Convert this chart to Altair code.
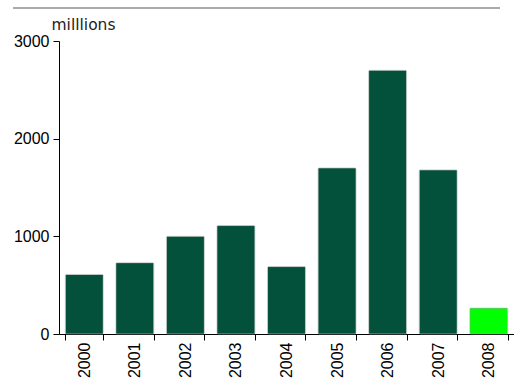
import altair as alt
import pandas as pd

years = ["2000", "2001", "2002", "2003", "2004", "2005", "2006", "2007", "2008"]
values = [610, 730, 1000, 1110, 690, 1700, 2700, 1680, 265]
colors = ["#03513A"] * 8 + ["#00FF00"]

df = pd.DataFrame({"year": years, "value": values, "color": colors})

bars = alt.Chart(df).mark_bar(stroke="#9aa9a2", strokeWidth=0.5, cornerRadius=1).encode(
    x=alt.X("year:N", sort=years,
            scale=alt.Scale(paddingInner=0.25, paddingOuter=0.125),
            axis=alt.Axis(title=None, labelAngle=-90, labelFontSize=16, labelFont="Liberation Sans",
                          labelColor="black", labelPadding=2, tickColor="black", domainColor="black",
                          tickBand="extent", tickSize=6, labelAlign="right", labelBaseline="middle")),
    y=alt.Y("value:Q", scale=alt.Scale(domain=[0, 3000]),
            axis=alt.Axis(values=[0, 1000, 2000, 3000], format="d", grid=False, title="milllions",
                          titleAngle=0, titleX=-8, titleY=-12, titleAlign="left",
                          titleBaseline="alphabetic", titleFont="DejaVu Sans",
                          titleFontSize=15.5, titleFontWeight="normal", titleColor="#222222",
                          labelFontSize=16, labelFont="Liberation Sans", labelColor="black",
                          tickColor="black", domainColor="black", tickSize=6, labelPadding=4)),
    color=alt.Color("color:N", scale=None),
)

topline = alt.Chart(df).mark_rule(color="#aaaaaa", strokeWidth=2, clip=False).encode(
    x=alt.value(-46), x2=alt.value(441), y=alt.value(-33)
)

chart = alt.layer(bars, topline).properties(
    width=455, height=293,
    autosize=alt.AutoSizeParams(type="none"),
    padding={"left": 59, "top": 41, "right": 0, "bottom": 48},
).configure_view(stroke=None).configure_axis(labelFont="Liberation Sans")

chart.save("out.html", embed_options={"renderer": "svg", "actions": False})
